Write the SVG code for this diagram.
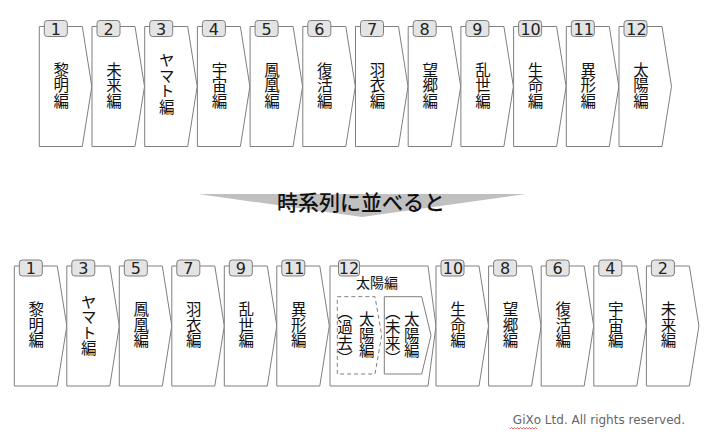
<svg xmlns="http://www.w3.org/2000/svg" xmlns:xlink="http://www.w3.org/1999/xlink" width="708" height="440" viewBox="0 0 708 440">
<style>
.sh{fill:#fff;stroke:#7f7f7f;stroke-width:1}
.dash{fill:#fff;stroke:#7f7f7f;stroke-width:1;stroke-dasharray:4 3}
.tab{fill:#e4e4e4;stroke:#7f7f7f;stroke-width:1}
.num{font-family:"DejaVu Sans","Noto Sans",sans-serif;font-size:16px;fill:#222;text-anchor:middle}
.v{font-family:"Noto Sans CJK JP",sans-serif;font-size:15.5px;fill:#111;writing-mode:vertical-rl;text-anchor:middle}
.h{font-family:"Noto Sans CJK JP",sans-serif;font-size:14px;fill:#111;text-anchor:middle}
.title{font-family:"Noto Sans CJK JP",sans-serif;font-size:21px;fill:#111;text-anchor:middle;font-weight:500}
.copy{font-family:"DejaVu Sans",sans-serif;font-size:12px;fill:#666;text-anchor:end}
</style>
<defs>
<path id="chev" class="sh" d="M0,0 H43 L52.5,60 L43,120 H0 Z"/>
<rect id="tab" class="tab" x="5" y="-6" width="23" height="16" rx="3"/>
</defs>

<g id="top-row">
<g id="t1" transform="translate(39.3,26.5)"><use xlink:href="#chev"/><use xlink:href="#tab"/><text class="num" x="16.5" y="8">1</text><text class="v" x="22" y="59">黎明編</text></g>
<g id="t2" transform="translate(92,26.5)"><use xlink:href="#chev"/><use xlink:href="#tab"/><text class="num" x="16.5" y="8">2</text><text class="v" x="22" y="59">未来編</text></g>
<g id="t3" transform="translate(144.7,26.5)"><use xlink:href="#chev"/><use xlink:href="#tab"/><text class="num" x="16.5" y="8">3</text><text class="v" x="22" y="57">ヤマト編</text></g>
<g id="t4" transform="translate(197.4,26.5)"><use xlink:href="#chev"/><use xlink:href="#tab"/><text class="num" x="16.5" y="8">4</text><text class="v" x="22" y="59">宇宙編</text></g>
<g id="t5" transform="translate(250.1,26.5)"><use xlink:href="#chev"/><use xlink:href="#tab"/><text class="num" x="16.5" y="8">5</text><text class="v" x="22" y="59">鳳凰編</text></g>
<g id="t6" transform="translate(302.8,26.5)"><use xlink:href="#chev"/><use xlink:href="#tab"/><text class="num" x="16.5" y="8">6</text><text class="v" x="22" y="59">復活編</text></g>
<g id="t7" transform="translate(355.5,26.5)"><use xlink:href="#chev"/><use xlink:href="#tab"/><text class="num" x="16.5" y="8">7</text><text class="v" x="22" y="59">羽衣編</text></g>
<g id="t8" transform="translate(408.2,26.5)"><use xlink:href="#chev"/><use xlink:href="#tab"/><text class="num" x="16.5" y="8">8</text><text class="v" x="22" y="59">望郷編</text></g>
<g id="t9" transform="translate(460.9,26.5)"><use xlink:href="#chev"/><use xlink:href="#tab"/><text class="num" x="16.5" y="8">9</text><text class="v" x="22" y="59">乱世編</text></g>
<g id="t10" transform="translate(513.6,26.5)"><use xlink:href="#chev"/><use xlink:href="#tab"/><text class="num" x="17" y="8">10</text><text class="v" x="22" y="59">生命編</text></g>
<g id="t11" transform="translate(566.3,26.5)"><use xlink:href="#chev"/><use xlink:href="#tab"/><text class="num" x="17.5" y="8">11</text><text class="v" x="22" y="59">異形編</text></g>
<g id="t12" transform="translate(619,26.5)"><use xlink:href="#chev"/><use xlink:href="#tab"/><text class="num" x="17.5" y="8">12</text><text class="v" x="22" y="59">太陽編</text></g>
</g>

<g id="arrow">
<polygon points="198,194 526,194 362,217" fill="#c0c0c0"/>
<text class="title" x="361" y="210">時系列に並べると</text>
</g>

<g id="bottom-row">
<g id="b1" transform="translate(14.3,266)"><use xlink:href="#chev"/><use xlink:href="#tab"/><text class="num" x="16.5" y="8">1</text><text class="v" x="22" y="59">黎明編</text></g>
<g id="b3" transform="translate(66.8,266)"><use xlink:href="#chev"/><use xlink:href="#tab"/><text class="num" x="16.5" y="8">3</text><text class="v" x="22" y="59">ヤマト編</text></g>
<g id="b5" transform="translate(119.3,266)"><use xlink:href="#chev"/><use xlink:href="#tab"/><text class="num" x="16.5" y="8">5</text><text class="v" x="22" y="59">鳳凰編</text></g>
<g id="b7" transform="translate(171.8,266)"><use xlink:href="#chev"/><use xlink:href="#tab"/><text class="num" x="16.5" y="8">7</text><text class="v" x="22" y="59">羽衣編</text></g>
<g id="b9" transform="translate(224.3,266)"><use xlink:href="#chev"/><use xlink:href="#tab"/><text class="num" x="16.5" y="8">9</text><text class="v" x="22" y="59">乱世編</text></g>
<g id="b11" transform="translate(276.8,266)"><use xlink:href="#chev"/><use xlink:href="#tab"/><text class="num" x="17.5" y="8">11</text><text class="v" x="22" y="59">異形編</text></g>
<g id="b12" transform="translate(330,266)">
<path class="sh" d="M0,0 H98 L106,60 L98,120 H0 Z"/>
<rect class="tab" x="8.5" y="-6" width="21" height="16" rx="3"/>
<text class="num" x="19" y="8">12</text>
<text class="h" x="47" y="22">太陽編</text>
<path class="dash" d="M7.3,30.7 H45 L51.7,69.3 L45,108 H7.3 Z"/>
<text class="v" x="36.7" y="69">太陽編</text>
<text class="v" x="15" y="69">（過去）</text>
<path class="sh" d="M54.3,30.7 H91.7 L101,69.3 L91.7,108 H54.3 Z"/>
<text class="v" x="81.7" y="69">太陽編</text>
<text class="v" x="62.7" y="69">（未来）</text>
</g>
<g id="b10" transform="translate(436,266)"><use xlink:href="#chev"/><use xlink:href="#tab"/><text class="num" x="17" y="8">10</text><text class="v" x="22" y="59">生命編</text></g>
<g id="b8" transform="translate(488.6,266)"><use xlink:href="#chev"/><use xlink:href="#tab"/><text class="num" x="16.5" y="8">8</text><text class="v" x="22" y="59">望郷編</text></g>
<g id="b6" transform="translate(541.2,266)"><use xlink:href="#chev"/><use xlink:href="#tab"/><text class="num" x="16.5" y="8">6</text><text class="v" x="22" y="59">復活編</text></g>
<g id="b4" transform="translate(593.8,266)"><use xlink:href="#chev"/><use xlink:href="#tab"/><text class="num" x="16.5" y="8">4</text><text class="v" x="22" y="59">宇宙編</text></g>
<g id="b2" transform="translate(646.4,266)"><use xlink:href="#chev"/><use xlink:href="#tab"/><text class="num" x="16.5" y="8">2</text><text class="v" x="22" y="59">未来編</text></g>
</g>

<g id="footer">
<text class="copy" x="685" y="424">GiXo Ltd. All rights reserved.</text>
<path d="M510,429 l1.5,-1.5 l1.5,1.5 l1.5,-1.5 l1.5,1.5 l1.5,-1.5 l1.5,1.5 l1.5,-1.5 l1.5,1.5 l1.5,-1.5 l1.5,1.5 l1.5,-1.5 l1.5,1.5 l1.5,-1.5 l1.5,1.5 l1.5,-1.5 l1.5,1.5 l1.5,-1.5 l1.5,1.5" fill="none" stroke="#e04040" stroke-width="0.8"/>
</g>
</svg>
